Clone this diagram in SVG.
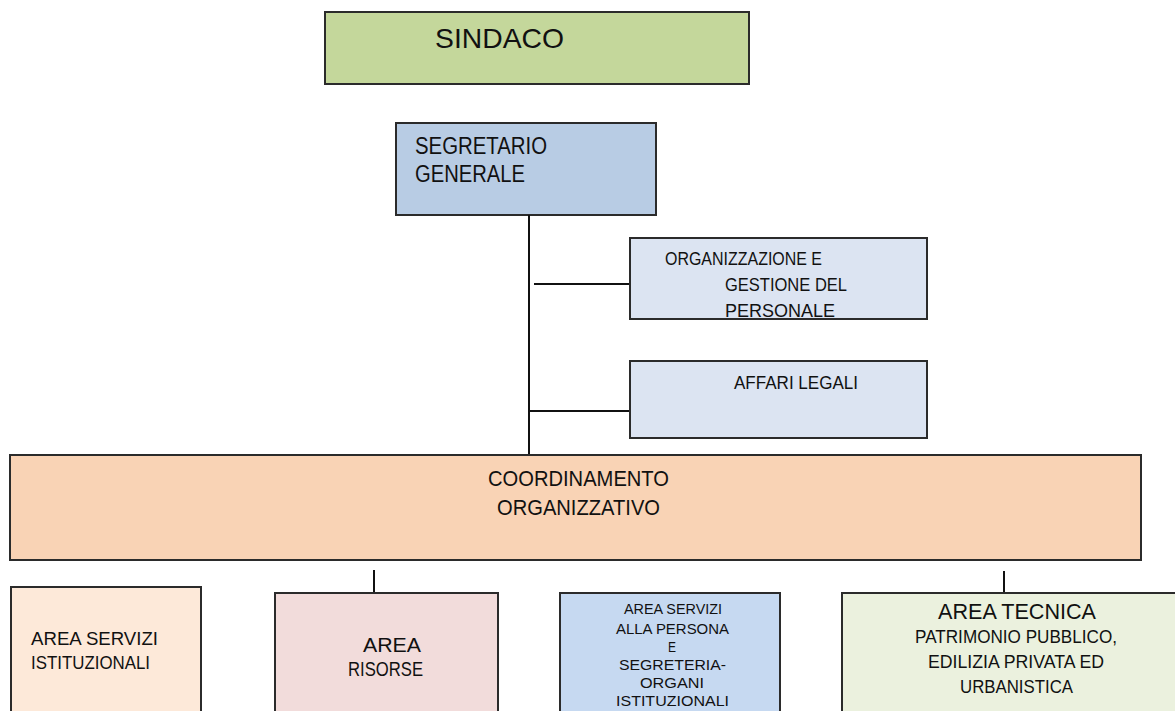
<svg xmlns="http://www.w3.org/2000/svg" width="1175" height="711" viewBox="0 0 1175 711">
<style>
.b{stroke:#2b2b2b;stroke-width:2}
.t{font-family:"Liberation Sans",Arial,sans-serif;fill:#111}
.c line{stroke:#111;stroke-width:2}
</style>
<rect width="1175" height="711" fill="#fff"/>
<g id="sindaco"><rect class="b" x="325" y="12" width="424" height="72" fill="#c4d79b"/>
<text class="t" x="435" y="48" font-size="28" textLength="129" lengthAdjust="spacingAndGlyphs">SINDACO</text></g>
<g id="segretario"><rect class="b" x="396" y="123" width="260" height="92" fill="#b8cce4"/>
<text class="t" font-size="23"><tspan x="415" y="154" textLength="132" lengthAdjust="spacingAndGlyphs">SEGRETARIO</tspan><tspan x="415" y="182" textLength="110" lengthAdjust="spacingAndGlyphs">GENERALE</tspan></text></g>
<g id="connectors" class="c">
<line x1="529" y1="215" x2="529" y2="455"/>
<line x1="534" y1="284" x2="630" y2="284"/>
<line x1="529" y1="411" x2="629" y2="411"/>
<line x1="374" y1="570" x2="374" y2="593"/>
<line x1="1004" y1="571" x2="1004" y2="593"/>
</g>
<g id="organizzazione"><rect class="b" x="630" y="238" width="297" height="81" fill="#dce4f2"/>
<text class="t" font-size="19"><tspan x="665" y="265" textLength="157" lengthAdjust="spacingAndGlyphs">ORGANIZZAZIONE E</tspan><tspan x="725" y="291" textLength="122" lengthAdjust="spacingAndGlyphs">GESTIONE DEL</tspan><tspan x="725" y="317" textLength="110" lengthAdjust="spacingAndGlyphs">PERSONALE</tspan></text></g>
<g id="affari"><rect class="b" x="630" y="361" width="297" height="77" fill="#dce4f2"/>
<text class="t" x="734" y="389" font-size="19" textLength="124" lengthAdjust="spacingAndGlyphs">AFFARI LEGALI</text></g>
<g id="coordinamento"><rect class="b" x="10" y="455" width="1131" height="105" fill="#f9d3b5"/>
<text class="t" font-size="22"><tspan x="488" y="486" textLength="181" lengthAdjust="spacingAndGlyphs">COORDINAMENTO</tspan><tspan x="497" y="515" textLength="163" lengthAdjust="spacingAndGlyphs">ORGANIZZATIVO</tspan></text></g>
<g id="istituzionali"><rect class="b" x="11" y="587" width="190" height="130" fill="#fde9d9"/>
<text class="t" font-size="19"><tspan x="31" y="645" textLength="127" lengthAdjust="spacingAndGlyphs">AREA  SERVIZI</tspan><tspan x="31" y="669" textLength="119" lengthAdjust="spacingAndGlyphs">ISTITUZIONALI</tspan></text></g>
<g id="risorse"><rect class="b" x="275" y="593" width="223" height="124" fill="#f2dcdb"/>
<text class="t" font-size="21"><tspan x="363" y="652" textLength="58" lengthAdjust="spacingAndGlyphs">AREA</tspan><tspan x="348" y="676" textLength="75" lengthAdjust="spacingAndGlyphs">RISORSE</tspan></text></g>
<g id="persona"><rect class="b" x="560" y="593" width="220" height="124" fill="#c6d9f1"/>
<text class="t" font-size="15"><tspan x="624" y="614" textLength="98" lengthAdjust="spacingAndGlyphs">AREA SERVIZI</tspan><tspan x="616" y="634" textLength="113" lengthAdjust="spacingAndGlyphs">ALLA PERSONA</tspan><tspan x="668" y="652" textLength="8" lengthAdjust="spacingAndGlyphs">E</tspan><tspan x="619" y="670" textLength="107" lengthAdjust="spacingAndGlyphs">SEGRETERIA-</tspan><tspan x="640" y="688" textLength="64" lengthAdjust="spacingAndGlyphs">ORGANI</tspan><tspan x="616" y="706" textLength="113" lengthAdjust="spacingAndGlyphs">ISTITUZIONALI</tspan></text></g>
<g id="tecnica"><rect class="b" x="842" y="593" width="340" height="124" fill="#ebf1de"/>
<text class="t"><tspan x="938" y="619" font-size="22" textLength="158" lengthAdjust="spacingAndGlyphs">AREA TECNICA</tspan><tspan x="915" y="643" font-size="19" textLength="202" lengthAdjust="spacingAndGlyphs">PATRIMONIO PUBBLICO,</tspan><tspan x="928" y="668" font-size="19" textLength="176" lengthAdjust="spacingAndGlyphs">EDILIZIA PRIVATA ED</tspan><tspan x="960" y="693" font-size="19" textLength="113" lengthAdjust="spacingAndGlyphs">URBANISTICA</tspan></text></g>
</svg>
